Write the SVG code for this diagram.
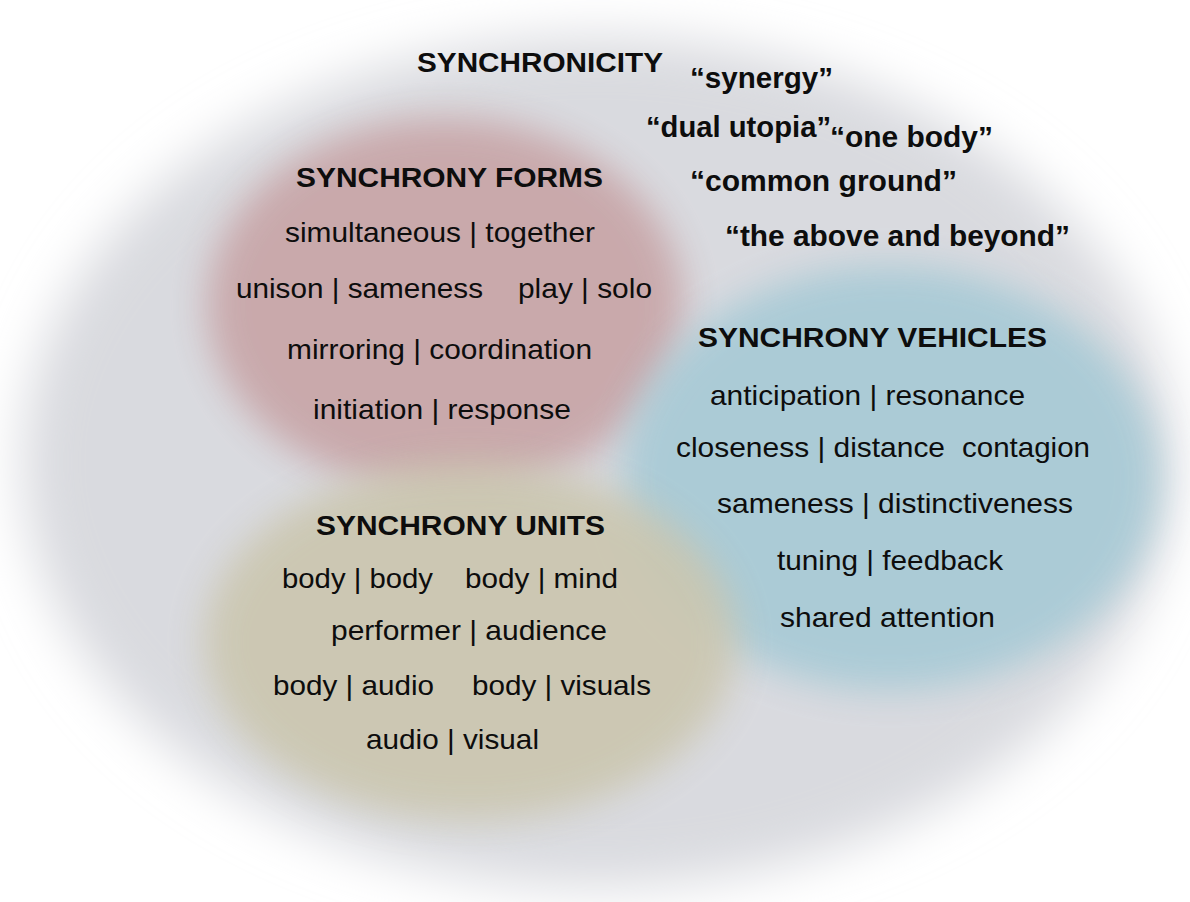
<svg xmlns="http://www.w3.org/2000/svg" width="1190" height="902" viewBox="0 0 1190 902">
<style>
text{font-family:"Liberation Sans",Arial,sans-serif;fill:#0d0d0d}
.h{font-size:27.5px;font-weight:bold}
.q{font-size:30px;font-weight:bold}
.t{font-size:28px}
</style>
<defs>
<filter id="blurBig" x="-20%" y="-20%" width="140%" height="140%"><feGaussianBlur stdDeviation="26"/></filter>
<filter id="blurMid" x="-30%" y="-30%" width="160%" height="160%"><feGaussianBlur stdDeviation="18"/></filter>
</defs>
<rect width="1190" height="902" fill="#ffffff"/>
<g id="synchronicity">
<ellipse cx="598" cy="462" rx="575" ry="425" fill="#d9dadf" filter="url(#blurBig)"/>
</g>
<g id="forms">
<ellipse cx="445" cy="305" rx="238" ry="187" fill="#c8a6a8" opacity="0.93" filter="url(#blurMid)"/>
</g>
<g id="vehicles">
<ellipse cx="890" cy="478" rx="268" ry="212" fill="#a8cad6" opacity="0.93" filter="url(#blurMid)"/>
</g>
<g id="units">
<ellipse cx="470" cy="642" rx="266" ry="178" fill="#cbc6af" opacity="0.9" filter="url(#blurMid)"/>
</g>
<g id="connectors"/>
<g id="synchronicity-labels">
<text class="h" x="417" y="72" textLength="246" lengthAdjust="spacingAndGlyphs">SYNCHRONICITY</text>
<text class="q" x="690" y="88" textLength="143" lengthAdjust="spacingAndGlyphs">“synergy”</text>
<text class="q" x="646" y="137" textLength="185" lengthAdjust="spacingAndGlyphs">“dual utopia”</text>
<text class="q" x="830" y="147" textLength="163" lengthAdjust="spacingAndGlyphs">“one body”</text>
<text class="q" x="690" y="191" textLength="267" lengthAdjust="spacingAndGlyphs">“common ground”</text>
<text class="q" x="725" y="246" textLength="345" lengthAdjust="spacingAndGlyphs">“the above and beyond”</text>
</g>
<g id="forms-labels">
<text class="h" x="296" y="187" textLength="307" lengthAdjust="spacingAndGlyphs">SYNCHRONY FORMS</text>
<text class="t" x="285" y="242" textLength="310" lengthAdjust="spacingAndGlyphs">simultaneous | together</text>
<text class="t" x="236" y="298" textLength="247" lengthAdjust="spacingAndGlyphs">unison | sameness</text>
<text class="t" x="518" y="298" textLength="134" lengthAdjust="spacingAndGlyphs">play | solo</text>
<text class="t" x="287" y="359" textLength="305" lengthAdjust="spacingAndGlyphs">mirroring | coordination</text>
<text class="t" x="313" y="419" textLength="258" lengthAdjust="spacingAndGlyphs">initiation | response</text>
</g>
<g id="vehicles-labels">
<text class="h" x="698" y="347" textLength="349" lengthAdjust="spacingAndGlyphs">SYNCHRONY VEHICLES</text>
<text class="t" x="710" y="405" textLength="315" lengthAdjust="spacingAndGlyphs">anticipation | resonance</text>
<text class="t" x="676" y="457" textLength="269" lengthAdjust="spacingAndGlyphs">closeness | distance</text>
<text class="t" x="962" y="457" textLength="128" lengthAdjust="spacingAndGlyphs">contagion</text>
<text class="t" x="717" y="513" textLength="356" lengthAdjust="spacingAndGlyphs">sameness | distinctiveness</text>
<text class="t" x="777" y="570" textLength="226" lengthAdjust="spacingAndGlyphs">tuning | feedback</text>
<text class="t" x="780" y="627" textLength="215" lengthAdjust="spacingAndGlyphs">shared attention</text>
</g>
<g id="units-labels">
<text class="h" x="316" y="535" textLength="289" lengthAdjust="spacingAndGlyphs">SYNCHRONY UNITS</text>
<text class="t" x="282" y="588" textLength="151" lengthAdjust="spacingAndGlyphs">body | body</text>
<text class="t" x="465" y="588" textLength="153" lengthAdjust="spacingAndGlyphs">body | mind</text>
<text class="t" x="331" y="640" textLength="276" lengthAdjust="spacingAndGlyphs">performer | audience</text>
<text class="t" x="273" y="695" textLength="161" lengthAdjust="spacingAndGlyphs">body | audio</text>
<text class="t" x="472" y="695" textLength="179" lengthAdjust="spacingAndGlyphs">body | visuals</text>
<text class="t" x="366" y="749" textLength="173" lengthAdjust="spacingAndGlyphs">audio | visual</text>
</g>
</svg>
